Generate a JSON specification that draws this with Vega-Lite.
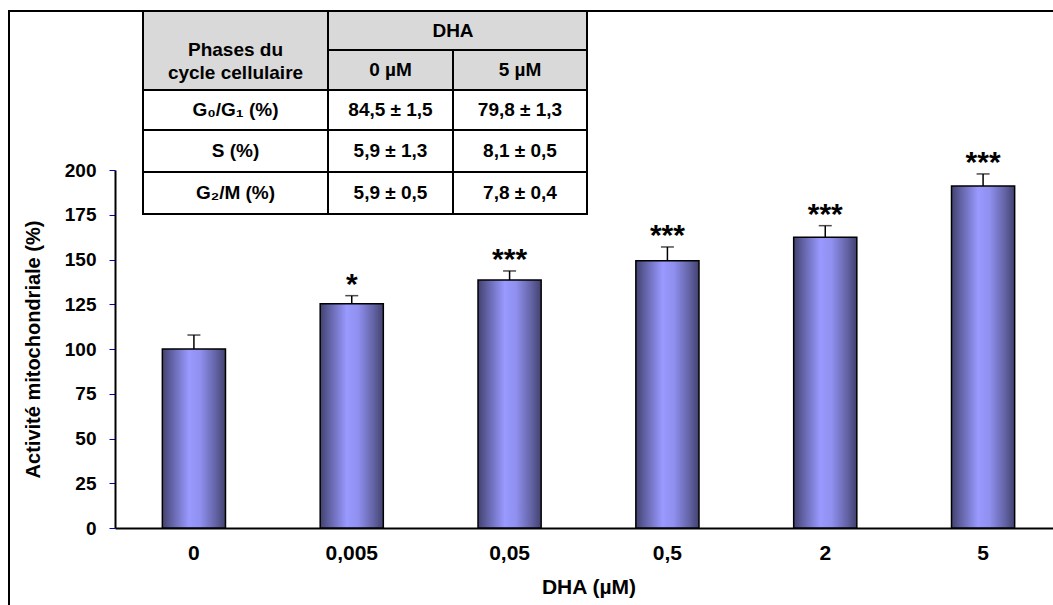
{
  "$schema": "https://vega.github.io/schema/vega-lite/v6.json",
  "width": 1060,
  "height": 600,
  "autosize": {"type": "none"},
  "padding": {"left": 9, "top": 11, "right": -16, "bottom": -6},
  "background": "white",
  "config": {
    "font": "Liberation Sans",
    "view": {"stroke": "black", "strokeWidth": 2, "fill": "white"}
  },
  "datasets": {
    "bars": [
      {"dha": "0", "value": 100, "upper": 107.8, "sig": ""},
      {"dha": "0,005", "value": 125.3, "upper": 129.8, "sig": "*"},
      {"dha": "0,05", "value": 138.5, "upper": 143.6, "sig": "***"},
      {"dha": "0,5", "value": 149.3, "upper": 157.0, "sig": "***"},
      {"dha": "2", "value": 162.4, "upper": 168.9, "sig": "***"},
      {"dha": "5", "value": 191.1, "upper": 197.8, "sig": "***"}
    ],
    "cells": [
      {"c0": 0, "c1": 1, "r0": 0, "r1": 2, "cx": 0.5, "cy": 1, "label": "Phases du\ncycle cellulaire", "kind": "head"},
      {"c0": 1, "c1": 3, "r0": 0, "r1": 1, "cx": 2, "cy": 0.5, "label": "DHA", "kind": "head"},
      {"c0": 1, "c1": 2, "r0": 1, "r1": 2, "cx": 1.5, "cy": 1.5, "label": "0 µM", "kind": "head"},
      {"c0": 2, "c1": 3, "r0": 1, "r1": 2, "cx": 2.5, "cy": 1.5, "label": "5 µM", "kind": "head"},
      {"c0": 0, "c1": 1, "r0": 2, "r1": 3, "cx": 0.5, "cy": 2.5, "label": "G₀/G₁ (%)", "kind": "body"},
      {"c0": 1, "c1": 2, "r0": 2, "r1": 3, "cx": 1.5, "cy": 2.5, "label": "84,5 ± 1,5", "kind": "body"},
      {"c0": 2, "c1": 3, "r0": 2, "r1": 3, "cx": 2.5, "cy": 2.5, "label": "79,8 ± 1,3", "kind": "body"},
      {"c0": 0, "c1": 1, "r0": 3, "r1": 4, "cx": 0.5, "cy": 3.5, "label": "S (%)", "kind": "body"},
      {"c0": 1, "c1": 2, "r0": 3, "r1": 4, "cx": 1.5, "cy": 3.5, "label": "5,9 ± 1,3", "kind": "body"},
      {"c0": 2, "c1": 3, "r0": 3, "r1": 4, "cx": 2.5, "cy": 3.5, "label": "8,1 ± 0,5", "kind": "body"},
      {"c0": 0, "c1": 1, "r0": 4, "r1": 5, "cx": 0.5, "cy": 4.5, "label": "G₂/M (%)", "kind": "body"},
      {"c0": 1, "c1": 2, "r0": 4, "r1": 5, "cx": 1.5, "cy": 4.5, "label": "5,9 ± 0,5", "kind": "body"},
      {"c0": 2, "c1": 3, "r0": 4, "r1": 5, "cx": 2.5, "cy": 4.5, "label": "7,8 ± 0,4", "kind": "body"}
    ]
  },
  "layer": [
    {
      "data": {"name": "bars"},
      "encoding": {
        "x": {
          "field": "dha",
          "type": "nominal",
          "sort": null,
          "scale": {"range": [106, 1053], "paddingInner": 0.6, "paddingOuter": 0.3},
          "axis": {
            "orient": "bottom",
            "offset": -83,
            "ticks": false,
            "tickSize": 0,
            "labelAngle": 0,
            "labelFontSize": 21,
            "labelFontWeight": "bold",
            "labelColor": "black",
            "labelPadding": 14,
            "domainColor": "black",
            "domainWidth": 2,
            "title": "DHA (µM)",
            "titleFontSize": 21,
            "titleFontWeight": "bold",
            "titleColor": "black",
            "titlePadding": 13
          }
        }
      },
      "layer": [
        {
          "mark": {
            "type": "bar",
            "fill": {
              "gradient": "linear",
              "x1": 0, "y1": 0, "x2": 1, "y2": 0,
              "stops": [
                {"offset": 0, "color": "#42426f"},
                {"offset": 0.15, "color": "#6262a6"},
                {"offset": 0.42, "color": "#9999ff"},
                {"offset": 0.6, "color": "#9090f0"},
                {"offset": 0.85, "color": "#6262a4"},
                {"offset": 1, "color": "#42426f"}
              ]
            },
            "stroke": "black",
            "strokeWidth": 1.5
          },
          "encoding": {
            "y": {
              "field": "value",
              "type": "quantitative",
              "scale": {"domain": [0, 200], "range": [517, 159], "nice": false},
              "axis": {
                "orient": "left",
                "offset": -106,
                "values": [0, 25, 50, 75, 100, 125, 150, 175, 200],
                "grid": false,
                "tickColor": "#0000c8",
                "tickSize": 6,
                "tickWidth": 1,
                "domainColor": "black",
                "domainWidth": 2,
                "labelFontSize": 19,
                "labelFontWeight": "bold",
                "labelColor": "black",
                "labelPadding": 13,
                "title": "Activité mitochondriale (%)",
                "titleFontSize": 20,
                "titleFontWeight": "bold",
                "titleColor": "black",
                "titlePadding": 21
              }
            }
          }
        },
        {
          "mark": {"type": "rule", "color": "black", "strokeWidth": 1.5},
          "encoding": {
            "y": {"field": "value", "type": "quantitative"},
            "y2": {"field": "upper"}
          }
        },
        {
          "mark": {"type": "tick", "orient": "horizontal", "size": 13, "thickness": 1.5, "color": "black"},
          "encoding": {
            "y": {"field": "upper", "type": "quantitative"}
          }
        },
        {
          "mark": {"type": "text", "fontSize": 30, "fontWeight": "bold", "baseline": "alphabetic", "align": "center", "dy": -2, "color": "black"},
          "encoding": {
            "y": {"field": "upper", "type": "quantitative"},
            "text": {"field": "sig"}
          }
        }
      ]
    },
    {
      "data": {"name": "cells"},
      "encoding": {
        "x": {"field": "c0", "type": "quantitative", "scale": {"domain": [0, 1, 2, 3], "range": [134, 319, 444, 578], "nice": false, "zero": false}, "axis": null},
        "y": {"field": "r0", "type": "quantitative", "scale": {"domain": [0, 1, 2, 3, 4, 5], "range": [0, 39, 79, 119, 161, 203], "nice": false, "zero": false}, "axis": null}
      },
      "layer": [
        {
          "mark": {"type": "rect", "stroke": "black", "strokeWidth": 2},
          "encoding": {
            "x2": {"field": "c1"},
            "y2": {"field": "r1"},
            "fill": {"field": "kind", "type": "nominal", "scale": {"domain": ["head", "body"], "range": ["#d9d9d9", "#ffffff"]}, "legend": null}
          }
        },
        {
          "mark": {"type": "text", "fontSize": 19, "fontWeight": "bold", "align": "center", "baseline": "middle", "lineBreak": "\n", "lineHeight": 23, "color": "black"},
          "encoding": {
            "x": {"field": "cx", "type": "quantitative"},
            "y": {"field": "cy", "type": "quantitative"},
            "text": {"field": "label"}
          }
        }
      ]
    }
  ],
  "resolve": {"scale": {"x": "independent", "y": "independent"}}
}
